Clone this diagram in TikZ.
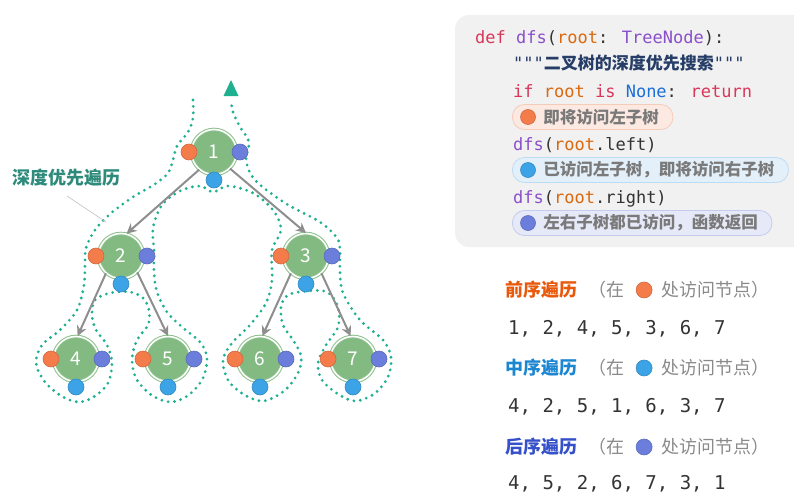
\documentclass[tikz,border=0pt]{standalone}
\usepackage{fontspec}
\setmainfont{Noto Sans CJK SC}
\newfontfamily\codefont{DejaVu Sans Mono}
\usetikzlibrary{arrows.meta,positioning}

\definecolor{nodegreen}{HTML}{83BA82}
\definecolor{ringgreen}{HTML}{8CC08B}
\definecolor{preorange}{HTML}{F47C4A}
\definecolor{inblue}{HTML}{3BA3E6}
\definecolor{postblue}{HTML}{6B7EDB}
\definecolor{pathteal}{HTML}{1FB08F}
\definecolor{labelteal}{HTML}{2E8B7B}
\definecolor{edgegray}{HTML}{8E8E8E}
\definecolor{codebg}{HTML}{F1F1F1}
\definecolor{kwred}{HTML}{D9365A}
\definecolor{fnpurple}{HTML}{8A4FCB}
\definecolor{argorange}{HTML}{D9690E}
\definecolor{nonblue}{HTML}{1B6FD8}
\definecolor{docnavy}{HTML}{263D67}
\definecolor{codedark}{HTML}{333333}
\definecolor{notegray}{HTML}{8A8A8A}
\definecolor{tipgray}{HTML}{7A7A7A}
\definecolor{prefill}{HTML}{FCE9E1}
\definecolor{preline}{HTML}{F6CBB8}
\definecolor{infill}{HTML}{E3F0FA}
\definecolor{inline}{HTML}{BCDCF3}
\definecolor{postfill}{HTML}{E6E9F8}
\definecolor{postline}{HTML}{C4CBEF}
\definecolor{pretitle}{HTML}{E8590C}
\definecolor{intitle}{HTML}{1C86D1}
\definecolor{posttitle}{HTML}{3550C8}

\begin{document}
\begin{tikzpicture}[x=1pt,y=-1pt,
  treenode/.style={circle, fill=nodegreen, draw=ringgreen, double=white,
    double distance=1.6pt, line width=1pt, minimum size=45pt, inner sep=0pt,
    text=white, font=\fontsize{19}{19}\selectfont},
  visit/.style={circle, minimum size=16pt, inner sep=0pt, line width=0.6pt},
  pre/.style={visit, fill=preorange, draw=preorange!85!black},
  mid/.style={visit, fill=inblue, draw=inblue!85!black},
  post/.style={visit, fill=postblue, draw=postblue!85!black},
  edge/.style={draw=edgegray, line width=2pt, -{Stealth[length=10pt,width=10pt]}},
  contour/.style={draw=pathteal, line width=3.1pt, line cap=round,
    dash pattern=on 0pt off 6.4pt},
  codeline/.style={anchor=base west, inner sep=0pt, text=codedark,
    font=\codefont\fontsize{17}{17}\selectfont},
  tipbox/.style={anchor=west, rounded corners=12pt, minimum height=25pt,
    inner xsep=14pt, inner ysep=0pt, line width=0.8pt, text=tipgray,
    font=\bfseries\fontsize{16.5}{16.5}\selectfont},
  head/.style={anchor=west, inner sep=0pt, font=\bfseries\fontsize{18}{18}\selectfont},
  note/.style={anchor=west, inner sep=0pt, text=notegray, font=\fontsize{18}{18}\selectfont},
  seq/.style={anchor=base west, inner sep=0pt, text=codedark,
    font=\codefont\fontsize{19}{19}\selectfont}]

\useasboundingbox (0,0) rectangle (794,495);

% === CODE PANEL ===
\begin{scope}
  \clip (0,0) rectangle (794,495);
  \fill[codebg, rounded corners=14pt] (455,15) rectangle (820,247);
\end{scope}

\node[codeline] (c-def) at (475,44) {\textcolor{kwred}{def} \textcolor{fnpurple}{dfs}(\textcolor{argorange}{root}: \textcolor{fnpurple}{TreeNode}):};
\node[codeline, text=docnavy] (c-doc) at (513,69) {"""{\rmfamily\bfseries 二叉树的深度优先搜索}"""};
\node[codeline] (c-if) at (513,97) {\textcolor{kwred}{if} \textcolor{argorange}{root} \textcolor{kwred}{is} \textcolor{nonblue}{None}: \textcolor{kwred}{return}};

\node[tipbox, fill=prefill, draw=preline] (tip-pre) at (512,117) {\hspace*{17pt}即将访问左子树};
\node[pre, minimum size=15pt] (tip-pre-dot) at ([xshift=16pt]tip-pre.west) {};

\node[codeline] (c-left) at (513,150) {\textcolor{fnpurple}{dfs}(\textcolor{argorange}{root}.left)};

\node[tipbox, fill=infill, draw=inline] (tip-in) at (512,170) {\hspace*{17pt}已访问左子树，即将访问右子树};
\node[mid, minimum size=15pt] (tip-in-dot) at ([xshift=16pt]tip-in.west) {};

\node[codeline] (c-right) at (513,203) {\textcolor{fnpurple}{dfs}(\textcolor{argorange}{root}.right)};

\node[tipbox, fill=postfill, draw=postline] (tip-post) at (512,223) {\hspace*{17pt}左右子树都已访问，函数返回};
\node[post, minimum size=15pt] (tip-post-dot) at ([xshift=16pt]tip-post.west) {};

% === TRAVERSAL ORDERS ===
\node[head, text=pretitle] (pre-head) at (505,290) {前序遍历};
\node[note] (pre-a) at ([xshift=11pt]pre-head.east) {（在};
\node[pre] (pre-dot) [right=11pt of pre-a] {};
\node[note] (pre-b) [right=9pt of pre-dot] {处访问节点）};
\node[seq] (pre-seq) at (508,334) {1, 2, 4, 5, 3, 6, 7};

\node[head, text=intitle] (in-head) at (505,368) {中序遍历};
\node[note] (in-a) at ([xshift=11pt]in-head.east) {（在};
\node[mid] (in-dot) [right=11pt of in-a] {};
\node[note] (in-b) [right=9pt of in-dot] {处访问节点）};
\node[seq] (in-seq) at (508,412) {4, 2, 5, 1, 6, 3, 7};

\node[head, text=posttitle] (post-head) at (505,447) {后序遍历};
\node[note] (post-a) at ([xshift=11pt]post-head.east) {（在};
\node[post] (post-dot) [right=11pt of post-a] {};
\node[note] (post-b) [right=9pt of post-dot] {处访问节点）};
\node[seq] (post-seq) at (508,489) {4, 5, 2, 6, 7, 3, 1};

% === DFS CONTOUR ===
\draw[contour] plot[smooth, tension=0.55] coordinates {
  (193,100) (193,118) (188,132) (177,146) (173,160) (168,173) (155,184)
  (133,197) (110,214) (95,230) (86,248) (85,265) (84,285) (77,310) (60,330)
  (42,345) (36,363) (45,382) (63,397) (80,402) (95,396) (108,383) (112,363)
  (107,345) (96,330) (92,315) (95,300) (110,293) (130,292) (143,298) (149,310)
  (148,325) (137,340) (132,360) (137,380) (153,396) (172,402) (190,394)
  (203,378) (207,358) (200,342) (182,327) (167,312) (157,292) (154,272)
  (154,250) (153,228) (162,205) (180,191) (200,186) (213,192) (228,186)
  (253,193) (273,210) (281,230) (272,250) (272,280) (266,303) (250,325)
  (232,343) (223,360) (228,380) (243,394) (263,401) (284,391) (298,373)
  (301,356) (293,340) (283,325) (281,307) (288,295) (307,291) (327,292)
  (338,307) (338,327) (326,345) (318,363) (322,380) (338,394) (355,401)
  (374,394) (388,377) (391,357) (383,340) (360,320) (343,293) (340,272)
  (340,250) (337,238) (320,222) (285,203) (255,180) (246,160) (249,142)
  (240,127) (233,112) (231,100)};
\fill[pathteal] (223.5,96) -- (238.5,96) -- (231,80) -- cycle;

% label
\node[head, text=labelteal] (dfs-label) at (12,178) {深度优先遍历};
\coordinate (lead-a) at (67,196);
\coordinate (lead-b) at (106,222);
\draw[black!25, line width=0.6pt] (lead-a) -- (lead-b);

% === TREE ===
\node[treenode] (n1) at (214,152) {1};
\node[treenode] (n2) at (121,256) {2};
\node[treenode] (n3) at (306,256) {3};
\node[treenode] (n4) at (76,359) {4};
\node[treenode] (n5) at (168,359) {5};
\node[treenode] (n6) at (260,359) {6};
\node[treenode] (n7) at (353,359) {7};

\draw[edge] (n1.230) -- (n2.76);
\draw[edge] (n1.314) -- (n3.90);
\draw[edge] (n2.229) -- (n4.86);
\draw[edge] (n2.315) -- (n5.90);
\draw[edge] (n3.229) -- (n6.84);
\draw[edge] (n3.312) -- (n7.96);

% visit dots
\foreach \n in {1,...,7} {
  \node[pre]  (n\n-pre)  at ([xshift=-25pt]n\n.center) {};
  \node[post] (n\n-post) at ([xshift=26pt]n\n.center) {};
  \node[mid]  (n\n-mid)  at ([yshift=-28pt]n\n.center) {};
}

\end{tikzpicture}
\end{document}
